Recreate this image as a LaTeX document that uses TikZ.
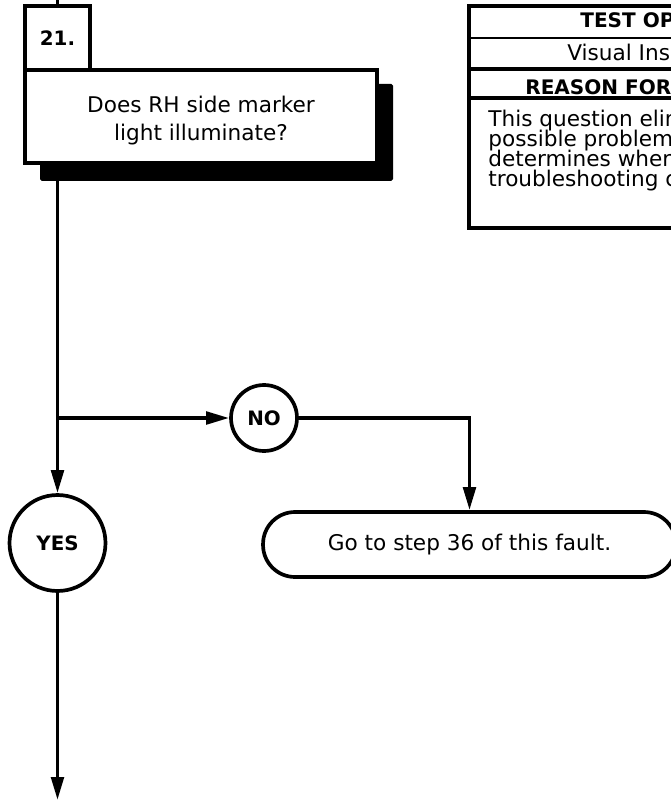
\documentclass[tikz,border=0pt]{standalone}
\usepackage{fontspec}
\setmainfont{DejaVu Sans}
\usetikzlibrary{arrows.meta}

\begin{document}
\begin{tikzpicture}[x=0.02cm,y=-0.02cm,
  flow/.style={line width=2.1pt,-{Triangle[length=0.46cm,width=0.25cm]}},
  box/.style={draw,line width=2.1pt,fill=white,inner sep=0pt},
  stepnum/.style={box,minimum width=1.3cm,minimum height=1.28cm,
    font=\fontsize{11.3}{13}\selectfont\bfseries},
  question/.style={box,minimum width=7.04cm,minimum height=1.86cm,align=center,
    text height=29.8pt,font=\fontsize{12.3}{15.9}\selectfont},
  answer/.style={box,circle,font=\fontsize{11.3}{13}\selectfont\bfseries},
  gotostep/.style={box,rounded corners=0.64cm,minimum width=8.26cm,
    minimum height=1.3cm,font=\fontsize{12.3}{14}\selectfont},
  tabhead/.style={inner sep=0pt,anchor=base west,font=\fontsize{11.4}{13}\selectfont\bfseries},
  tabtext/.style={inner sep=0pt,anchor=base west,font=\fontsize{12.3}{14}\selectfont}]
  \useasboundingbox (0,0) rectangle (671,800);
  \clip (0,0) rectangle (671,800);

  % step 21 and its question
  \fill[rounded corners=1pt] (40,84) rectangle (393,181);
  \node[question] (q) at (201,116.5) {Does RH side marker\\light illuminate?};
  \node[stepnum] (num) at (57.5,38) {21.};
  \coordinate (top) at (57.5,0);

  % answers
  \node[answer,minimum size=1.32cm] (no) at (264,418) {NO};
  \node[answer,minimum size=1.92cm] (yes) at (57.5,543) {YES};
  \node[gotostep] (go) at (469.5,544.5) {Go to step 36 of this fault.};
  \coordinate (bottom) at (57.5,800);

  % test option table
  \draw[line width=1.8pt] (469,6) rectangle (760,228);
  \draw[line width=1.5pt] (469,38) -- (760,38);
  \draw[line width=1.8pt] (469,69) -- (760,69) (469,98) -- (760,98);
  \node[tabhead] (opthd) at (580,28) {TEST OPTION};
  \node[tabtext] (opt) at (567,61) {Visual Inspection};
  \node[tabhead] (reasonhd) at (525,95) {REASON FOR QUESTION};
  \node[tabtext] (reason1) at (488,127) {This question eliminates};
  \node[tabtext] (reason2) at (488,147) {possible problems and};
  \node[tabtext] (reason3) at (488,167) {determines where};
  \node[tabtext] (reason4) at (488,187) {troubleshooting continues.};

  % connectors
  \draw[line width=2.1pt] (top) -- (num.north);
  \draw[flow] (yes |- q.south) -- (yes.north);
  \draw[flow] (yes |- no) -- (no.west);
  \draw[flow] (no.east) -| (go.north);
  \draw[flow] (yes.south) -- (bottom);
\end{tikzpicture}
\end{document}
